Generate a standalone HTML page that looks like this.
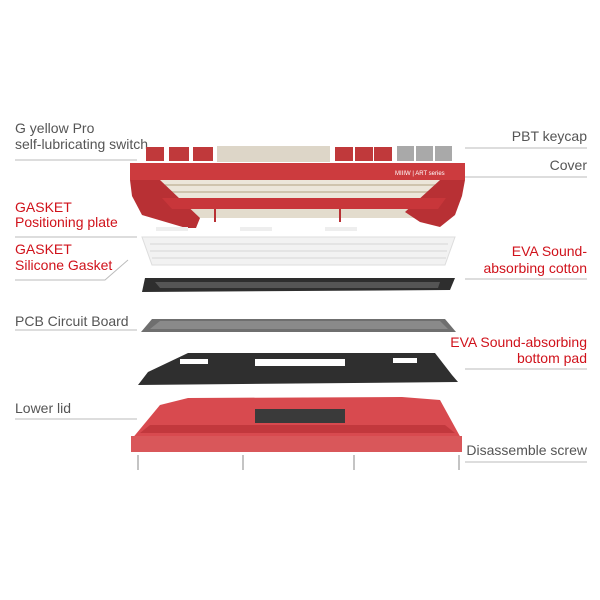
<!DOCTYPE html>
<html><head><meta charset="utf-8"><style>
html,body{margin:0;padding:0;background:#fff;}
svg{display:block}
text{font-family:"Liberation Sans",sans-serif;font-size:14px;}
.g{fill:#555}.r{fill:#d0121b}
.l{stroke:#bbb;stroke-width:1;fill:none}
</style></head><body>
<svg width="600" height="600" viewBox="0 0 600 600">
<!-- left labels -->
<text x="15" y="133" class="g">G yellow Pro</text>
<text x="15" y="149" class="g">self-lubricating switch</text>
<line x1="15" y1="160" x2="137" y2="160" class="l"/>
<text x="15" y="212" class="r">GASKET</text>
<text x="15" y="227" class="r">Positioning plate</text>
<line x1="15" y1="237" x2="137" y2="237" class="l"/>
<text x="15" y="254" class="r">GASKET</text>
<text x="15" y="270" class="r">Silicone Gasket</text>
<polyline points="15,280 105,280 128,260" class="l"/>
<text x="15" y="326" class="g">PCB Circuit Board</text>
<line x1="15" y1="330" x2="137" y2="330" class="l"/>
<text x="15" y="413" class="g">Lower lid</text>
<line x1="15" y1="419" x2="137" y2="419" class="l"/>
<!-- right labels -->
<g text-anchor="end">
<text x="587" y="141" class="g">PBT keycap</text>
<text x="587" y="170" class="g">Cover</text>
<text x="587" y="256" class="r">EVA Sound-</text>
<text x="587" y="273" class="r">absorbing cotton</text>
<text x="587" y="347" class="r">EVA Sound-absorbing</text>
<text x="587" y="363" class="r">bottom pad</text>
<text x="587" y="455" class="g">Disassemble screw</text>
</g>
<line x1="465" y1="148" x2="587" y2="148" class="l"/>
<line x1="465" y1="177" x2="587" y2="177" class="l"/>
<line x1="465" y1="279" x2="587" y2="279" class="l"/>
<line x1="465" y1="369" x2="587" y2="369" class="l"/>
<line x1="465" y1="462" x2="587" y2="462" class="l"/>

<!-- keycaps -->
<g>
<rect x="146" y="147" width="18" height="14" fill="#c0393b"/>
<rect x="169" y="147" width="20" height="14" fill="#c0393b"/>
<rect x="193" y="147" width="20" height="14" fill="#c0393b"/>
<rect x="217" y="146" width="113" height="16" fill="#ddd6c8"/>
<rect x="335" y="147" width="18" height="14" fill="#c0393b"/>
<rect x="355" y="147" width="18" height="14" fill="#c0393b"/>
<rect x="374" y="147" width="18" height="14" fill="#c0393b"/>
<rect x="397" y="146" width="17" height="15" fill="#a9a9a9"/>
<rect x="416" y="146" width="17" height="15" fill="#a9a9a9"/>
<rect x="435" y="146" width="17" height="15" fill="#a9a9a9"/>
</g>
<!-- switches inside frame -->
<rect x="158" y="180" width="285" height="19" fill="#ece6da"/>
<g fill="#cfc4ae">
<rect x="165" y="184" width="270" height="2"/><rect x="165" y="191" width="270" height="2"/>
</g>
<rect x="185" y="207" width="240" height="11" fill="#e3dccd"/>
<!-- cover frame -->
<rect x="130" y="163" width="335" height="17" fill="#cc3b3e"/>
<polygon points="130,180 160,180 200,218 196,228 186,228 142,215 132,196" fill="#b83034"/>
<polygon points="465,180 440,180 405,212 420,222 440,227 455,215 462,196" fill="#b83034"/>
<polygon points="162,198 446,198 438,209 172,209" fill="#c8363a"/>
<line x1="215" y1="209" x2="215" y2="222" stroke="#b83034" stroke-width="2"/>
<line x1="340" y1="209" x2="340" y2="222" stroke="#b83034" stroke-width="2"/>
<text x="395" y="175" style="font-size:6px;fill:#fff">MIIIW | ART series</text>

<!-- positioning plate -->
<polygon points="142,237 455,237 445,265 152,265" fill="#f2f2f2" stroke="#ddd"/>
<g stroke="#d6d6d6" stroke-width="1">
<line x1="150" y1="244" x2="448" y2="244"/><line x1="150" y1="251" x2="447" y2="251"/><line x1="152" y1="258" x2="446" y2="258"/>
</g>
<!-- gaskets -->
<rect x="156" y="227" width="32" height="4" fill="#eee"/>
<rect x="240" y="227" width="32" height="4" fill="#eee"/>
<rect x="325" y="227" width="32" height="4" fill="#eee"/>
<!-- EVA cotton -->
<polygon points="145,278 455,278 450,290 142,292" fill="#2e2e2e"/>
<polygon points="155,282 440,282 438,288 160,288" fill="#555"/>
<!-- PCB -->
<polygon points="152,319 445,319 456,332 141,332" fill="#6f6f6f"/>
<polygon points="160,321 440,321 448,329 150,329" fill="#8a8a8a"/>
<!-- bottom pad -->
<polygon points="188,353 435,353 452,375 458,382 138,385 148,372" fill="#2f2f2f"/>
<rect x="255" y="359" width="90" height="7" fill="#fff"/>
<rect x="180" y="359" width="28" height="5" fill="#fff"/>
<rect x="393" y="358" width="24" height="5" fill="#fff"/>
<!-- lower lid -->
<polygon points="188,398 402,397 440,400 462,440 462,452 135,452 131,440 160,405" fill="#d84a4f"/>
<polygon points="131,436 462,436 462,452 131,452" fill="#d9575a"/>
<rect x="255" y="409" width="90" height="14" fill="#3a3a3a"/>
<polygon points="150,425 445,425 455,433 140,433" fill="#c2383d"/>
<!-- screws -->
<g stroke="#888" stroke-width="1">
<line x1="138" y1="455" x2="138" y2="470"/>
<line x1="243" y1="455" x2="243" y2="470"/>
<line x1="354" y1="455" x2="354" y2="470"/>
<line x1="459" y1="455" x2="459" y2="470"/>
</g>
</svg>
</body></html>
